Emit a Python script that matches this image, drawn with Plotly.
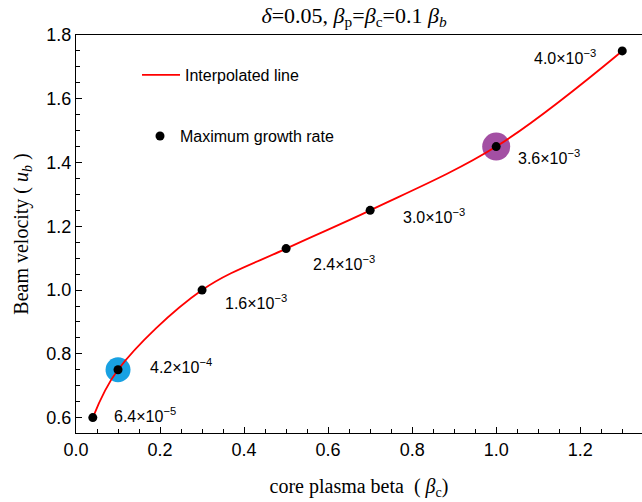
import plotly.graph_objects as go

# ---- data ----
beta_c = [0.04, 0.1, 0.3, 0.5, 0.7, 1.0, 1.3]
beam_velocity = [0.60, 0.75, 1.00, 1.13, 1.25, 1.45, 1.75]
growth_mantissa = ["6.4", "4.2", "1.6", "2.4", "3.0", "3.6", "4.0"]
growth_exponent = ["5", "4", "3", "3", "3", "3", "3"]
highlight_index = [1, 5]

# ---- styles ----
highlight_colors = ["rgb(24,161,226)", "rgb(163,79,163)"]
highlight_sizes = [25, 28]
# label placement (pixel shifts from each point) and anchor
label_shift = [(19, 3), (30, 4), (21, -12), (25, -14), (31, -6), (20, -10), (-24, -6)]
label_anchor = ["left", "left", "left", "left", "left", "left", "right"]

SANS = "Liberation Sans, Arial, sans-serif"
SERIF = "Liberation Serif, Times New Roman, serif"

fig = go.Figure()

for i, idx in enumerate(highlight_index):
    fig.add_trace(go.Scatter(
        x=[beta_c[idx]], y=[beam_velocity[idx]], mode="markers",
        marker=dict(size=highlight_sizes[i], color=highlight_colors[i], line=dict(width=0)),
        showlegend=False, hoverinfo="skip"))

fig.add_trace(go.Scatter(
    x=beta_c, y=beam_velocity, mode="lines", name="Interpolated line",
    line=dict(color="red", width=1.8, shape="spline", smoothing=1.0),
    legend="legend"))

fig.add_trace(go.Scatter(
    x=beta_c, y=beam_velocity, mode="markers", name="Maximum growth rate",
    marker=dict(size=9, color="black"),
    legend="legend2"))

for i in range(len(beta_c)):
    dx, dy = label_shift[i]
    fig.add_annotation(
        x=beta_c[i], y=beam_velocity[i], xref="x", yref="y",
        text=f"{growth_mantissa[i]}×10<sup>−{growth_exponent[i]}</sup>",
        showarrow=False, xanchor=label_anchor[i], yanchor="middle",
        xshift=dx, yshift=dy, font=dict(family=SANS, size=16, color="black"))

axis_common = dict(
    showline=True, linecolor="black", linewidth=1.3, mirror=True,
    ticks="inside", ticklen=6, tickwidth=1, tickcolor="black",
    showgrid=False, zeroline=False, automargin=False,
    tickfont=dict(family=SANS, size=18, color="black"),
)

fig.update_layout(
    width=642, height=502,
    margin=dict(l=76, r=0, t=35, b=69, autoexpand=False),
    paper_bgcolor="white", plot_bgcolor="white",
    title=dict(
        text="<i>δ</i>=0.05, <i>β</i><sub>p</sub>=<i>β</i><sub>c</sub>=0.1 <i>β<sub>b</sub></i>",
        x=354 / 642, xref="container", xanchor="center",
        y=1 - 15 / 502, yref="container", yanchor="middle",
        font=dict(family=SERIF, size=22, color="black")),
    xaxis=dict(
        range=[0, 1.347], tick0=0, dtick=0.2, tickformat=".1f",
        minor=dict(dtick=0.05, tick0=0, ticks="inside", ticklen=3.5, tickwidth=1, tickcolor="black"),
        title=dict(text="core plasma beta  ( <i>β</i><sub>c</sub>)", standoff=20,
                   font=dict(family=SERIF, size=20, color="black")),
        **axis_common),
    yaxis=dict(
        range=[0.5517, 1.8], tick0=0.2, dtick=0.2, tickformat=".1f",
        minor=dict(dtick=0.05, tick0=0, ticks="inside", ticklen=3.5, tickwidth=1, tickcolor="black"),
        title=dict(text="Beam velocity ( <i>u<sub>b</sub></i> )", standoff=12,
                   font=dict(family=SERIF, size=20, color="black")),
        **axis_common),
    legend=dict(
        x=0.1078, xref="paper", xanchor="left",
        y=0.8994, yref="paper", yanchor="middle",
        itemwidth=38, bgcolor="rgba(0,0,0,0)", borderwidth=0,
        font=dict(family=SANS, size=16, color="black")),
    legend2=dict(
        x=0.1131, xref="paper", xanchor="left",
        y=0.7460, yref="paper", yanchor="middle",
        bgcolor="rgba(0,0,0,0)", borderwidth=0,
        font=dict(family=SANS, size=16, color="black")),
    showlegend=True,
)

fig.write_html("out.html", config={"displayModeBar": False},
               post_script="document.body.style.margin='0px';")
